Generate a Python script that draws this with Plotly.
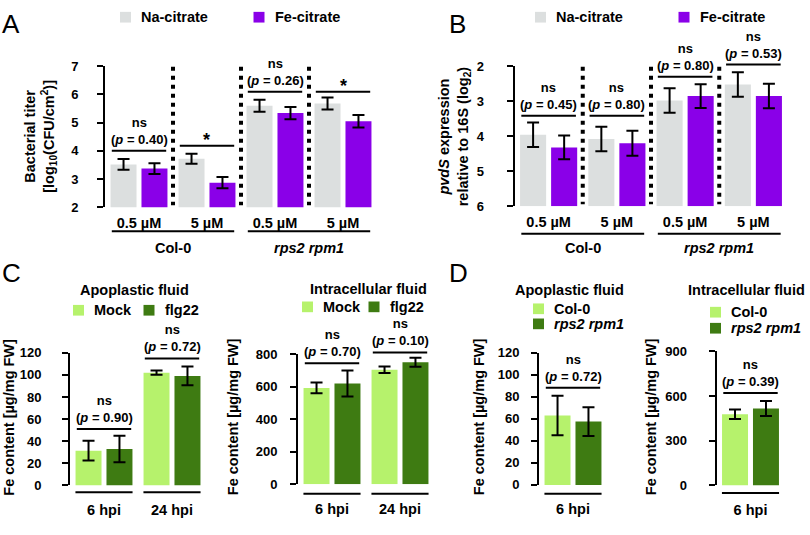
import plotly.graph_objects as go

W, H = 810, 535
FONT = "Liberation Sans, Arial, Helvetica, sans-serif"

# ---------------- data ----------------
genotypes = ["Col-0", "rps2 rpm1"]

A_categories = ["Col-0 0.5 µM", "Col-0 5 µM", "rps2 rpm1 0.5 µM", "rps2 rpm1 5 µM"]
A_tick_labels = ["0.5 µM", "5 µM", "0.5 µM", "5 µM"]
A_na = [3.52, 3.72, 5.60, 5.68]
A_na_err = [0.19, 0.18, 0.21, 0.21]
A_fe = [3.37, 2.87, 5.34, 5.05]
A_fe_err = [0.19, 0.20, 0.22, 0.22]
A_sig = ["ns", "*", "ns", "*"]
A_p = ["0.40", "", "0.26", ""]
A_sig_level = [4.0, 4.18, 6.1, 6.1]

B_categories = A_categories
B_tick_labels = A_tick_labels
B_na = [3.96, 4.08, 2.98, 2.52]
B_na_err = [0.35, 0.35, 0.35, 0.35]
B_fe = [4.32, 4.20, 2.85, 2.85]
B_fe_err = [0.34, 0.36, 0.34, 0.35]
B_sig = ["ns", "ns", "ns", "ns"]
B_p = ["0.45", "0.80", "0.80", "0.53"]
B_sig_level = [3.41, 3.41, 2.30, 1.95]

C_times = ["6 hpi", "24 hpi"]
C_apo_mock = [31.5, 102.0]
C_apo_mock_err = [9.0, 2.0]
C_apo_flg22 = [33.0, 99.0]
C_apo_flg22_err = [12.0, 8.5]
C_apo_p = ["0.90", "0.72"]
C_apo_sig_level = [51.0, 114.8]

C_int_mock = [593.0, 705.0]
C_int_mock_err = [33.0, 20.0]
C_int_flg22 = [620.0, 752.0]
C_int_flg22_err = [80.0, 28.0]
C_int_p = ["0.70", "0.10"]
C_int_sig_level = [746.0, 812.0]

D_times = ["6 hpi"]
D_apo_col = [63.0]
D_apo_col_err = [18.0]
D_apo_rps = [57.5]
D_apo_rps_err = [13.0]
D_apo_p = ["0.72"]
D_apo_sig_level = [88.3]

D_int_col = [478.0]
D_int_col_err = [32.0]
D_int_rps = [517.0]
D_int_rps_err = [50.0]
D_int_p = ["0.39"]
D_int_sig_level = [620.0]

# ---------------- styling / geometry ----------------
GREY = "#DCDFDF"
PURPLE = "#8A00E8"
LGREEN = "#B6F26C"
DGREEN = "#3E7B12"

geom = {
    "A":  dict(ax="", xd=(105, 377), yd=(206, 61), yr=[2, 7], tv=[2, 3, 4, 5, 6, 7], so=16, xso=5),
    "B":  dict(ax="2", xd=(514.5, 787.5), yd=(205, 61), yr=[6, 2], tv=[2, 3, 4, 5, 6], so=20, xso=5),
    "Ca": dict(ax="3", xd=(70, 206), yd=(492.3, 355.7), yr=[0, 120], tv=list(range(0, 121, 20)), so=18, xso=14),
    "Ci": dict(ax="4", xd=(298, 434), yd=(491, 357.4), yr=[0, 800], tv=list(range(0, 801, 200)), so=10, xso=14),
    "Da": dict(ax="5", xd=(539, 607), yd=(491.7, 355.7), yr=[0, 120], tv=list(range(0, 121, 20)), so=9, xso=14),
    "Di": dict(ax="6", xd=(716.5, 784.5), yd=(492.3, 354.3), yr=[0, 900], tv=[0, 300, 600, 900], so=19, xso=14),
}


def X(px):
    return px / W


def Y(py):
    return 1 - py / H


def cat_px(g, i, n):
    x0, x1 = g["xd"]
    return x0 + (i + 0.5) * (x1 - x0) / n


def val_py(g, v):
    yb, yt = g["yd"]
    r0, r1 = g["yr"]
    return yb + (v - r0) / (r1 - r0) * (yt - yb)


fig = go.Figure()
shapes = []
annotations = []


def hline(x0, x1, py, width=2):
    shapes.append(dict(type="line", xref="paper", yref="paper", x0=X(x0), x1=X(x1),
                       y0=Y(py), y1=Y(py), line=dict(color="black", width=width)))


def text(s, px, py, size, xanchor="center", yanchor="middle", weight="bold", angle=0, yshift=0):
    annotations.append(dict(text=s, x=X(px), y=Y(py), xref="paper", yref="paper", showarrow=False,
                            xanchor=xanchor, yanchor=yanchor, textangle=angle, yshift=yshift,
                            font=dict(family=FONT, size=size, color="black", weight=weight)))


def add_bars(key, cats, vals, errs, color, name):
    g = geom[key]
    a = g["ax"]
    base = max(g["yr"]) if g["yr"][0] > g["yr"][1] else None
    y = [v - base for v in vals] if base is not None else vals
    fig.add_trace(go.Bar(
        x=cats, y=y, base=base, name=name, showlegend=False,
        marker=dict(color=color, line=dict(width=0)),
        error_y=dict(type="data", array=errs, color="black", thickness=2, width=6),
        xaxis="x" + a, yaxis="y" + a))


def sig(key, i, n, level, label, p):
    g = geom[key]
    cx = cat_px(g, i, n)
    half = 0.40 * (g["xd"][1] - g["xd"][0]) / n
    py = val_py(g, level)
    hline(cx - half, cx + half, py)
    if label == "*":
        text("*", cx, py, 18, yanchor="bottom", yshift=-6)
    else:
        text(f"{label}<br>(<i>p</i> = {p})", cx, py, 13, yanchor="bottom", yshift=2)


def legend_item(px, py, color, label, italic=False):
    shapes.append(dict(type="rect", xref="paper", yref="paper", x0=X(px), x1=X(px + 11),
                       y0=Y(py + 5.5), y1=Y(py - 5.5), fillcolor=color, line=dict(width=0)))
    s = f"<i>{label}</i>" if italic else label
    text(s, px + 19, py, 14.5, xanchor="left")


# ---------------- panel A ----------------
add_bars("A", A_categories, A_na, A_na_err, GREY, "Na-citrate")
add_bars("A", A_categories, A_fe, A_fe_err, PURPLE, "Fe-citrate")
# ---------------- panel B ----------------
add_bars("B", B_categories, B_na, B_na_err, GREY, "Na-citrate")
add_bars("B", B_categories, B_fe, B_fe_err, PURPLE, "Fe-citrate")
# ---------------- panel C ----------------
add_bars("Ca", C_times, C_apo_mock, C_apo_mock_err, LGREEN, "Mock")
add_bars("Ca", C_times, C_apo_flg22, C_apo_flg22_err, DGREEN, "flg22")
add_bars("Ci", C_times, C_int_mock, C_int_mock_err, LGREEN, "Mock")
add_bars("Ci", C_times, C_int_flg22, C_int_flg22_err, DGREEN, "flg22")
# ---------------- panel D ----------------
add_bars("Da", D_times, D_apo_col, D_apo_col_err, LGREEN, "Col-0")
add_bars("Da", D_times, D_apo_rps, D_apo_rps_err, DGREEN, "rps2 rpm1")
add_bars("Di", D_times, D_int_col, D_int_col_err, LGREEN, "Col-0")
add_bars("Di", D_times, D_int_rps, D_int_rps_err, DGREEN, "rps2 rpm1")

# axes
layout_axes = {}
tick_cats = {"A": (A_categories, A_tick_labels), "B": (B_categories, B_tick_labels),
             "Ca": (C_times, C_times), "Ci": (C_times, C_times),
             "Da": (D_times, D_times), "Di": (D_times, D_times)}
for key, g in geom.items():
    a = g["ax"]
    cats, labels = tick_cats[key]
    layout_axes["xaxis" + a] = dict(
        domain=[X(g["xd"][0]), X(g["xd"][1])], anchor="y" + a, type="category",
        categoryorder="array", categoryarray=cats, tickvals=cats, ticktext=labels,
        showline=False, showgrid=False, zeroline=False, ticks="", ticklabelstandoff=g["xso"],
        tickfont=dict(family=FONT, size=14.5, color="black", weight="bold"), fixedrange=True)
    layout_axes["yaxis" + a] = dict(
        domain=[Y(g["yd"][0]), Y(g["yd"][1])], anchor="x" + a, range=g["yr"],
        tickvals=g["tv"], showline=True, linecolor="black", linewidth=2,
        ticks="outside", ticklen=6, tickwidth=2, tickcolor="black",
        showgrid=False, zeroline=False, ticklabelstandoff=g["so"],
        tickfont=dict(family=FONT, size=13, color="black", weight="bold"), fixedrange=True)

# dotted separators (A, B)
for key in ["A", "B"]:
    g = geom[key]
    n = len(A_categories)
    for i in range(n - 1):
        xb = (cat_px(g, i, n) + cat_px(g, i + 1, n)) / 2
        shapes.append(dict(type="line", xref="paper", yref="paper", x0=X(xb), x1=X(xb),
                           y0=Y(g["yd"][1] + 0.5), y1=Y(g["yd"][0] - 2),
                           line=dict(color="black", width=4, dash="4px,5px")))

# significance
for i in range(4):
    sig("A", i, 4, A_sig_level[i], A_sig[i], A_p[i])
    sig("B", i, 4, B_sig_level[i], B_sig[i], B_p[i])
for i in range(2):
    sig("Ca", i, 2, C_apo_sig_level[i], "ns", C_apo_p[i])
    sig("Ci", i, 2, C_int_sig_level[i], "ns", C_int_p[i])
sig("Da", 0, 1, D_apo_sig_level[0], "ns", D_apo_p[0])
sig("Di", 0, 1, D_int_sig_level[0], "ns", D_int_p[0])

# genotype brackets under A and B
for key, ly, ty in [("A", 230.7, 248.3), ("B", 233.3, 248.3)]:
    g = geom[key]
    half = 0.40 * (g["xd"][1] - g["xd"][0]) / 4
    for j, gen in enumerate(genotypes):
        c0 = cat_px(g, 2 * j, 4)
        c1 = cat_px(g, 2 * j + 1, 4)
        hline(c0 - half, c1 + half, ly)
        s = gen if j == 0 else f"<i>{gen}</i>"
        text(s, (c0 + c1) / 2, ty, 14.5)

# lines above time labels (C, D)
for key, n, ly in [("Ca", 2, 499.3), ("Ci", 2, 500.7), ("Da", 1, 500.7), ("Di", 1, 500.0)]:
    g = geom[key]
    half = 0.42 * (g["xd"][1] - g["xd"][0]) / n
    for i in range(n):
        c = cat_px(g, i, n)
        hline(c - half, c + half, ly)

# legends
legend_item(120, 10.5, GREY, "Na-citrate")
legend_item(253.5, 10.5, PURPLE, "Fe-citrate")
legend_item(535, 10.5, GREY, "Na-citrate")
legend_item(678.5, 10.5, PURPLE, "Fe-citrate")
legend_item(73, 312, LGREEN, "Mock")
legend_item(143.5, 312, DGREEN, "flg22")
legend_item(302, 308.5, LGREEN, "Mock")
legend_item(368.5, 308.5, DGREEN, "flg22")
legend_item(533, 310.5, LGREEN, "Col-0")
legend_item(533, 326, DGREEN, "rps2 rpm1", italic=True)
legend_item(710, 314, LGREEN, "Col-0")
legend_item(710, 330.5, DGREEN, "rps2 rpm1", italic=True)

# panel titles
text("Apoplastic fluid", 134, 290.7, 14.5)
text("Intracellular fluid", 368, 290.0, 14.5)
text("Apoplastic fluid", 569, 290.7, 14.5)
text("Intracellular fluid", 746.5, 290.7, 14.5)

# y-axis titles
text("Bacterial titer<br>[log<sub>10</sub>(CFU/cm<sup>2</sup>)]", 41, 133.5, 14.5, angle=-90)
text("<i>pvdS</i> expression<br>relative to 16S (log<sub>2</sub>)", 454, 133, 14.5, angle=-90)
text("Fe content [µg/mg FW]", 9.5, 422, 14.5, angle=-90)
text("Fe content [µg/mg FW]", 233, 422, 14.5, angle=-90)
text("Fe content [µg/mg FW]", 479, 422, 14.5, angle=-90)
text("Fe content [µg/mg FW]", 651, 422, 14.5, angle=-90)

# panel letters
text("A", 0, 17, 26, xanchor="left", weight="normal")
text("B", 447, 17, 26, xanchor="left", weight="normal")
text("C", 0, 274, 26, xanchor="left", weight="normal")
text("D", 447, 274, 26, xanchor="left", weight="normal")

fig.update_layout(
    width=W, height=H, autosize=False,
    margin=dict(l=0, r=0, t=0, b=0),
    paper_bgcolor="white", plot_bgcolor="rgba(0,0,0,0)",
    barmode="group", bargap=0.09, bargroupgap=0.16,
    showlegend=False, shapes=shapes, annotations=annotations,
    font=dict(family=FONT, color="black"),
    **layout_axes,
)

fig.write_html("out.html", config={"displayModeBar": False},
               post_script="document.body.style.margin='0px';document.body.style.overflow='hidden';")
